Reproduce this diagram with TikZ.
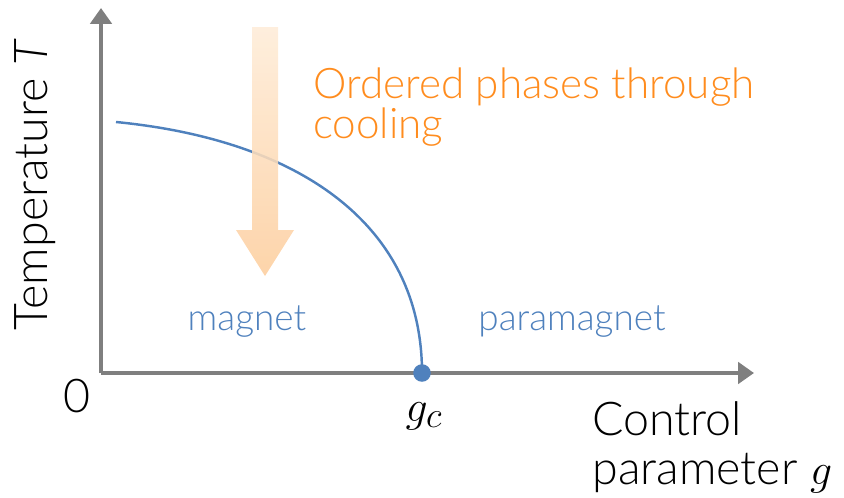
\documentclass[tikz,border=0pt]{standalone}
\usepackage{fontspec}
\setmainfont{Lato Light}[ItalicFont={Lato Light Italic}]
\usetikzlibrary{arrows.meta}
\definecolor{axisgray}{RGB}{127,127,127}
\definecolor{phaseblue}{RGB}{79,129,189}
\definecolor{coolorange}{RGB}{255,140,30}
\definecolor{arrowtop}{RGB}{254,236,216}
\definecolor{arrowbottom}{RGB}{253,206,158}

\begin{document}
\begin{tikzpicture}[x=0.02cm, y=-0.02cm,
        axis/.style={draw=axisgray, line width=2.3pt, -{Triangle[length=9pt, width=12pt]}},
        axislabel/.style={font=\fontsize{26.5}{28}\selectfont, text=black, inner sep=0pt},
        phase/.style={font=\fontsize{21}{24}\selectfont, text=phaseblue, inner sep=0pt},
        curve/.style={draw=phaseblue, line width=1.4pt}
    ]
        \useasboundingbox (0,0) rectangle (844,497);
        \coordinate (origin) at (101,373);
        \coordinate (tmax) at (101,8);
        \coordinate (gmax) at (754,373);
        \coordinate (tc) at (116,122);

        \draw[axis] (origin) -- (tmax);
        \draw[axis] (origin) -- (gmax);

        \node[circle, fill=phaseblue, inner sep=0pt, minimum size=10pt] (gcdot) at (422,373) {};
        \draw[curve] (tc) .. controls (300,140) and (422,225) .. (gcdot.center);

        \shade[top color=arrowtop, bottom color=arrowbottom, fill opacity=0.88]
            (252,27) -- (278,27) -- (278,230) -- (294,230) -- (265,276) -- (236,230) -- (252,230) -- cycle;

        \node[axislabel, rotate=90] (tlabel) at (35,185) {Temperature \textit{T}};
        \node[axislabel] (zero) at (77,396) {0};
        \node[axislabel, font=\fontsize{29}{30}\selectfont] (gclabel) at (424,416) {$g_c$};
        \node[axislabel, anchor=north west, align=left] (glabel) at (592,401) {Control\\parameter $g$};
        \node[phase] (magnet) at (247,322) {magnet};
        \node[phase] (para) at (572,322) {paramagnet};
        \node[font=\fontsize{24}{23}\selectfont, text=coolorange, anchor=north west, align=left, inner sep=0pt] (cooling) at (313,67) {Ordered phases through\\cooling};
    \end{tikzpicture}
\end{document}
